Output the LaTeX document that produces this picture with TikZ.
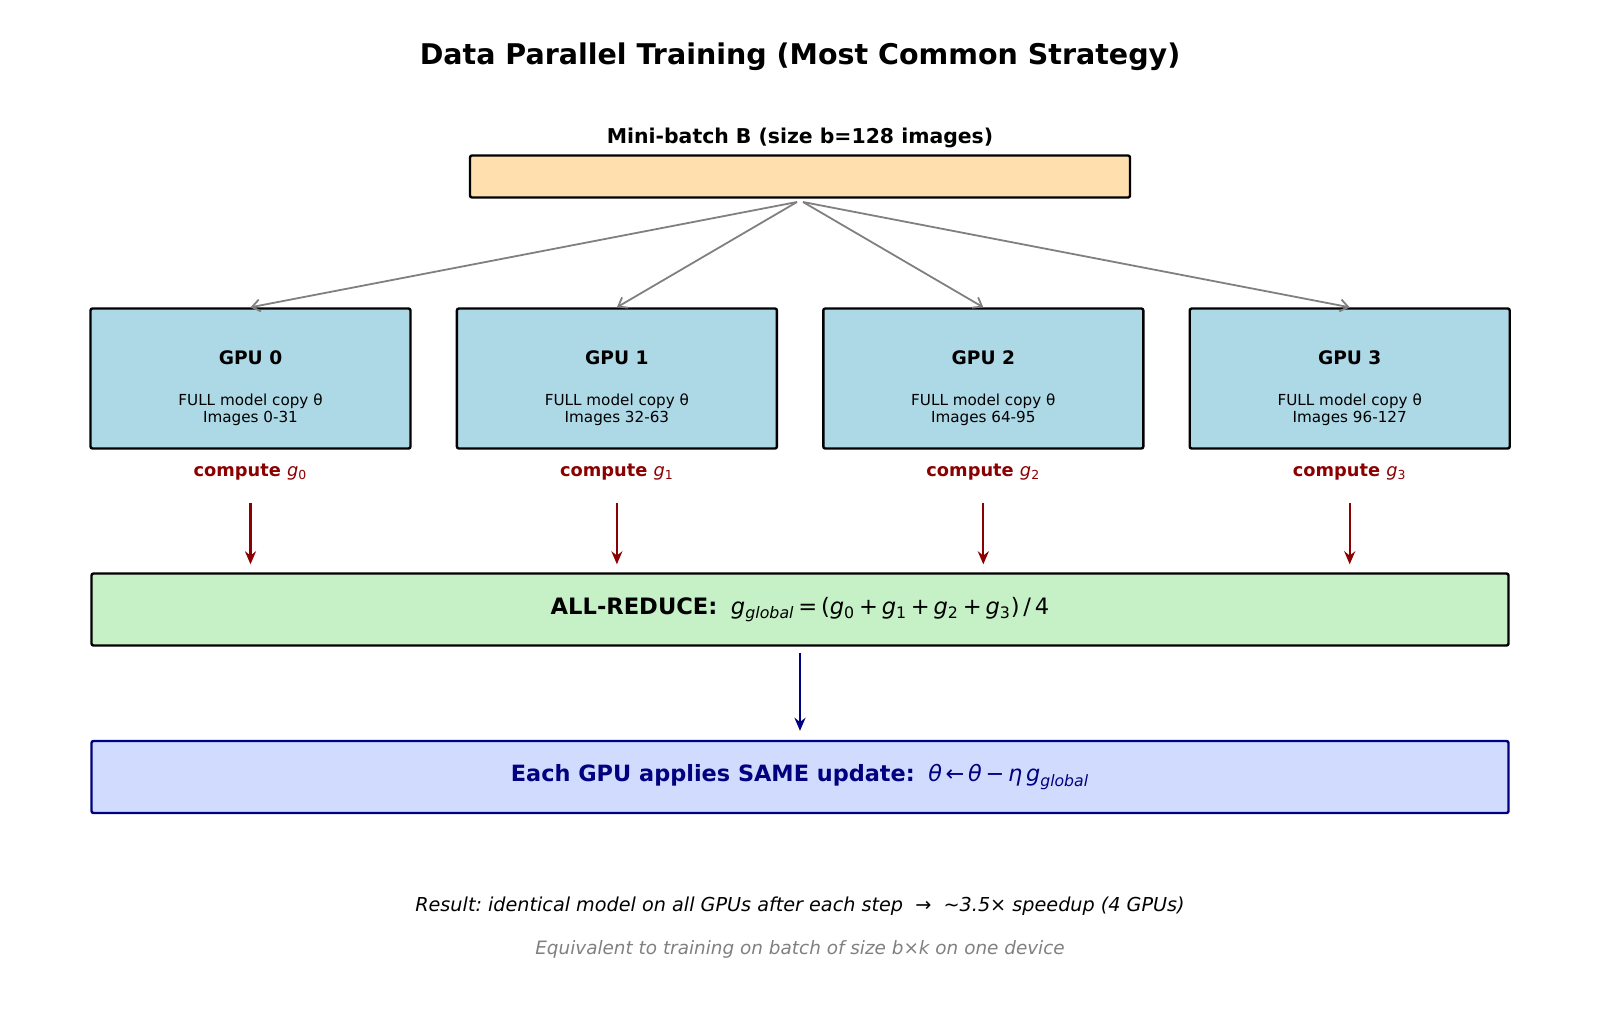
\documentclass[tikz,border=0pt]{standalone}
\usepackage{fontspec}
\setmainfont{DejaVu Sans}
\usepackage{xcolor}
\usetikzlibrary{arrows.meta, positioning}
\definecolor{batchfill}{HTML}{FFDFAE}
\definecolor{gpufill}{HTML}{ADD8E6}
\definecolor{reducefill}{HTML}{C6F0C6}
\definecolor{updatefill}{HTML}{D0DBFD}
\definecolor{darkred}{HTML}{8B0000}
\definecolor{navyblue}{HTML}{000080}
\newcommand{\gsub}[1]{{\mdseries\textit{g}\textsubscript{#1}}}
\newcommand{\gglobal}{{\mdseries\textit{g}\textsubscript{\textit{global}}}}
\frenchspacing

\begin{document}
\begin{tikzpicture}[
    x=0.5pt, y=-0.5pt,
    box/.style={draw, line width=1.2pt, rounded corners=1pt, inner sep=0pt},
    gpu/.style={box, fill=gpufill, minimum width=160pt, minimum height=70pt},
    wide/.style={box, minimum width=708.5pt, minimum height=36pt},
    gputitle/.style={font=\fontsize{9.3}{11}\selectfont\bfseries},
    gpuinfo/.style={font=\fontsize{7.6}{8.4}\selectfont, align=center},
    computelbl/.style={font=\fontsize{8.9}{10}\selectfont\bfseries, text=darkred},
    split/.style={-{Straight Barb[length=4pt, width=6pt]}, line width=0.9pt, draw=gray},
    redarr/.style={-{Stealth[length=6.5pt, width=5.5pt]}, line width=1.1pt, draw=darkred},
    bluearr/.style={-{Stealth[length=6.5pt, width=5.5pt]}, line width=1.1pt, draw=navyblue},
]
\useasboundingbox (0,0) rectangle (1600,1013);

\node[font=\fontsize{14.25}{17}\selectfont\bfseries] (title) at (800,57)
    {Data Parallel Training (Most Common Strategy)};

% mini-batch
\node[font=\fontsize{10.2}{12}\selectfont\bfseries] (batchlbl) at (800,138)
    {Mini-batch B (size b=128 images)};
\node[box, fill=batchfill, minimum width=330pt, minimum height=21pt] (batch) at (800,176.5) {};
\coordinate (splitL) at (797,202);
\coordinate (splitR) at (803,202);

% workers
\node[gpu] (gpu0) at (250.5,378.5) {};
\node[gpu, right=22pt of gpu0] (gpu1) {};
\node[gpu, right=22pt of gpu1] (gpu2) {};
\node[gpu, right=22pt of gpu2] (gpu3) {};

\node[gputitle] (t0) at (gpu0 |- 0,358) {GPU 0};
\node[gputitle] (t1) at (gpu1 |- 0,358) {GPU 1};
\node[gputitle] (t2) at (gpu2 |- 0,358) {GPU 2};
\node[gputitle] (t3) at (gpu3 |- 0,358) {GPU 3};

\node[gpuinfo] (i0) at (gpu0 |- 0,409.5) {FULL model copy θ\\Images 0-31};
\node[gpuinfo] (i1) at (gpu1 |- 0,409.5) {FULL model copy θ\\Images 32-63};
\node[gpuinfo] (i2) at (gpu2 |- 0,409.5) {FULL model copy θ\\Images 64-95};
\node[gpuinfo] (i3) at (gpu3 |- 0,409.5) {FULL model copy θ\\Images 96-127};

\node[computelbl] (c0) at (gpu0 |- 0,472) {compute \gsub{0}};
\node[computelbl] (c1) at (gpu1 |- 0,472) {compute \gsub{1}};
\node[computelbl] (c2) at (gpu2 |- 0,472) {compute \gsub{2}};
\node[computelbl] (c3) at (gpu3 |- 0,472) {compute \gsub{3}};

% reduce + update
\node[wide, fill=reducefill] (reduce) at (800,609.5)
    {\fontsize{11.3}{13}\selectfont\textbf{ALL-REDUCE:}\hspace{0.6em}\gglobal\,=\,(\gsub{0}\,+\,\gsub{1}\,+\,\gsub{2}\,+\,\gsub{3})\,/\,4};
\node[wide, fill=updatefill, draw=navyblue, text=navyblue] (update) at (800,777)
    {\fontsize{11.2}{13}\selectfont\textbf{Each GPU applies SAME update:}\hspace{0.6em}\textit{θ}\,←\,\textit{θ}\,−\,\textit{η}\,\gglobal};

\node[font=\fontsize{9.6}{11}\selectfont\itshape] (result) at (800,906)
    {Result: identical model on all GPUs after each step \ → \ \textasciitilde3.5× speedup (4 GPUs)};
\node[font=\fontsize{9.2}{11}\selectfont\itshape, text=gray] (equiv) at (800,949)
    {Equivalent to training on batch of size b×k on one device};

% connectors
\draw[split] (splitL) -- (gpu0.north);
\draw[split] (splitL) -- (gpu1.north);
\draw[split] (splitR) -- (gpu2.north);
\draw[split] (splitR) -- (gpu3.north);

\draw[redarr, shorten <=8pt, shorten >=4pt] (c0.south) -- (c0.south |- reduce.north);
\draw[redarr, shorten <=8pt, shorten >=4pt] (c1.south) -- (c1.south |- reduce.north);
\draw[redarr, shorten <=8pt, shorten >=4pt] (c2.south) -- (c2.south |- reduce.north);
\draw[redarr, shorten <=8pt, shorten >=4pt] (c3.south) -- (c3.south |- reduce.north);

\draw[bluearr, shorten <=3pt, shorten >=4.5pt] (reduce.south) -- (update.north);
\end{tikzpicture}
\end{document}
